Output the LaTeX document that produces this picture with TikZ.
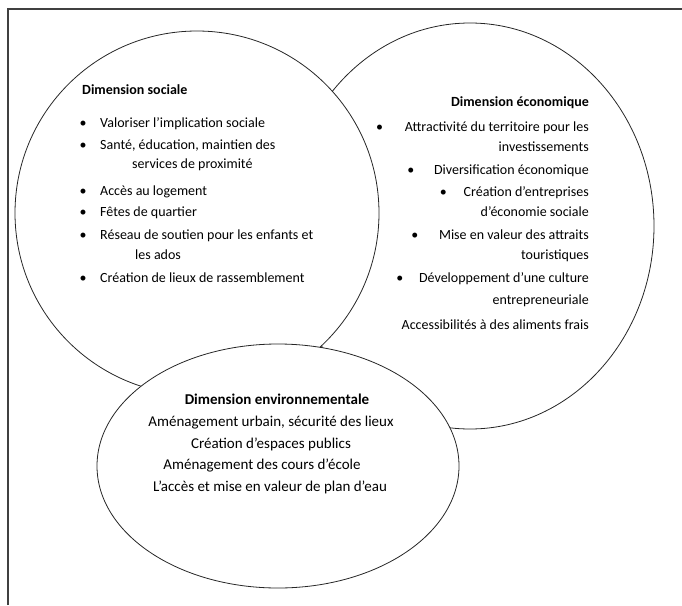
\documentclass[tikz,border=0pt]{standalone}
\usepackage{fontspec}
\setmainfont{Carlito}
\usepackage{tikz}
\usetikzlibrary{positioning}

\begin{document}
\begin{tikzpicture}[
  x=1pt, y=-1pt,
  frame/.style={draw=black!75, line width=1.4pt},
  dim/.style={draw=black!85, fill=white, line width=0.8pt},
  ttl/.style={font=\fontsize{14}{16}\selectfont\bfseries, text=black, inner sep=0pt},
  txt/.style={font=\fontsize{14}{16}\selectfont, text=black, inner sep=0pt},
  envtxt/.style={font=\fontsize{15}{17}\selectfont, text=black, inner sep=0pt, anchor=base},
  bul/.style={font=\fontsize{14}{16}\selectfont, text=black, inner sep=0pt, anchor=base},
]
  \useasboundingbox (0,0) rectangle (682,605);
  \draw[frame] (8,605) -- (8,9) -- (682,9);

  % the three dimensions
  \draw[dim] (470,226) ellipse [x radius=184, y radius=203];
  \draw[dim] (197,213) ellipse [x radius=182, y radius=182];
  \draw[dim] (278,466) ellipse [x radius=181, y radius=122];

  % dimension sociale
  \node[ttl, anchor=base west] (socT) at (82,94) {Dimension sociale};
  \node[txt, anchor=base west] (soc1) at (100,127) {Valoriser l’implication sociale};
  \node[txt, anchor=base west] (soc2) at (100,149) {Santé, éducation, maintien des};
  \node[txt, anchor=base west] (soc2b) at (132,168) {services de proximité};
  \node[txt, anchor=base west] (soc3) at (100,195) {Accès au logement};
  \node[txt, anchor=base west] (soc4) at (100,216) {Fêtes de quartier};
  \node[txt, anchor=base west] (soc5) at (100,239) {Réseau de soutien pour les enfants et};
  \node[txt, anchor=base west] (soc5b) at (135,259) {les ados};
  \node[txt, anchor=base west] (soc6) at (100,282) {Création de lieux de rassemblement};
  \foreach \n in {soc1,soc2,soc3,soc4,soc5,soc6}
    \node[bul] at ([xshift=-17pt]\n.base west) {\textbullet};

  % dimension economique
  \node[ttl, anchor=base east] (ecoT) at (589,106) {Dimension économique};
  \node[txt, anchor=base east] (eco1) at (589,131) {Attractivité du territoire pour les};
  \node[txt, anchor=base east] (eco1b) at (589,151) {investissements};
  \node[txt, anchor=base east] (eco2) at (589,174) {Diversification économique};
  \node[txt, anchor=base east] (eco3) at (589,196) {Création d’entreprises};
  \node[txt, anchor=base east] (eco3b) at (589,216) {d’économie sociale};
  \node[txt, anchor=base east] (eco4) at (589,239) {Mise en valeur des attraits};
  \node[txt, anchor=base east] (eco4b) at (589,259) {touristiques};
  \node[txt, anchor=base east] (eco5) at (589,282) {Développement d’une culture};
  \node[txt, anchor=base east] (eco5b) at (589,304) {entrepreneuriale};
  \node[txt, anchor=base east] (eco6) at (589,329) {Accessibilités à des aliments frais};
  \node[bul] at ([xshift=-25pt]eco1.base west) {\textbullet};
  \node[bul] at ([xshift=-23pt]eco2.base west) {\textbullet};
  \node[bul] at ([xshift=-20pt]eco3.base west) {\textbullet};
  \node[bul] at ([xshift=-24pt]eco4.base west) {\textbullet};
  \node[bul] at ([xshift=-19pt]eco5.base west) {\textbullet};

  % dimension environnementale
  \node[envtxt, font=\fontsize{15}{17}\selectfont\bfseries] (envT) at (277,404) {Dimension environnementale};
  \node[envtxt] (env1) at (271,426) {Aménagement urbain, sécurité des lieux};
  \node[envtxt] (env2) at (271,448) {Création d’espaces publics};
  \node[envtxt] (env3) at (262,469) {Aménagement des cours d’école};
  \node[envtxt] (env4) at (270,491) {L’accès et mise en valeur de plan d’eau};
\end{tikzpicture}
\end{document}
